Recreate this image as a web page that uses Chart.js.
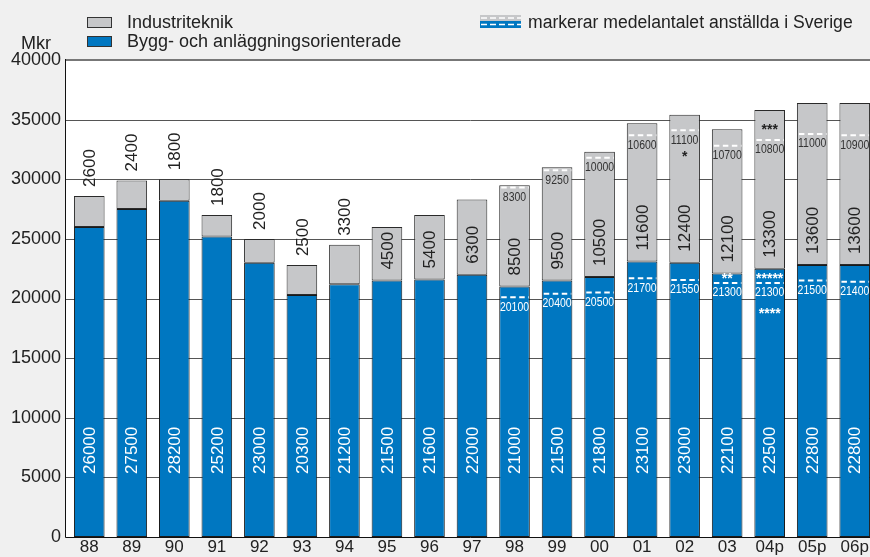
<!DOCTYPE html>
<html>
<head>
<meta charset="utf-8">
<script src="https://cdn.jsdelivr.net/npm/chart.js@4.4.0/dist/chart.umd.min.js"></script>
<style>
html,body{margin:0;padding:0;overflow:hidden}
body{background:#f0f0f0;width:870px;height:557px;position:relative;font-family:"Liberation Sans",Arial,sans-serif;color:#222}
#wrap{position:absolute;left:0;top:0;width:876px;height:557px}
.lg{position:absolute;font-size:18px;line-height:18px;white-space:nowrap}
.box{position:absolute;width:23px;height:9px;border:1px solid #333}
</style>
</head>
<body>
<div id="wrap"><canvas id="c" width="876" height="557"></canvas></div>
<div class="box" style="left:87px;top:17px;background:#c6c7c9"></div>
<div class="box" style="left:87px;top:36px;background:#0077c1"></div>
<div class="lg" style="left:127px;top:12.5px">Industriteknik</div>
<div class="lg" style="left:127px;top:32px">Bygg- och anläggningsorienterade</div>
<div class="lg" style="left:21px;top:34px">Mkr</div>
<div class="lg" style="left:528px;top:13px;font-size:17.6px">markerar medelantalet anställda i Sverige</div>
<script>
// år
var years = ["88","89","90","91","92","93","94","95","96","97","98","99","00","01","02","03","04p","05p","06p"];
// Mkr
var bygg = [26000,27500,28200,25200,23000,20300,21200,21500,21600,22000,21000,21500,21800,23100,23000,22100,22500,22800,22800];
var industri = [2600,2400,1800,1800,2000,2500,3300,4500,5400,6300,8500,9500,10500,11600,12400,12100,13300,13600,13600];
// medelantal anställda
var anstBygg = [null,null,null,null,null,null,null,null,null,null,20100,20400,20500,21700,21550,21300,21300,21500,21400];
var anstInd = [null,null,null,null,null,null,null,null,null,null,8300,9250,10000,10600,11100,10700,10800,11000,10900];
// fotnoter (stjärnor)
var starAboveInd = {16:"***"};
var starBelowInd = {14:"*"};
var starAboveBygg = {15:"**",16:"*****"};
var starBelowBygg = {16:"****"};

var blue = "#0077c1", grey = "#c6c7c9";

function vtext(ctx, t, x, y0, col){
  ctx.save();
  ctx.translate(x, y0);
  ctx.rotate(-Math.PI/2);
  ctx.font = "17px 'Liberation Sans', Arial, sans-serif";
  ctx.fillStyle = col;
  ctx.textAlign = "left";
  ctx.textBaseline = "middle";
  ctx.fillText(t, 0, 1);
  ctx.restore();
}
function smalltext(ctx, t, x, yc, col){
  ctx.save();
  ctx.translate(x, yc);
  ctx.scale(0.84, 1);
  ctx.font = "12.5px 'Liberation Sans', Arial, sans-serif";
  ctx.fillStyle = col;
  ctx.textAlign = "center";
  ctx.textBaseline = "middle";
  ctx.fillText(t, 0, 0);
  ctx.restore();
}
function stars(ctx, t, x, yc, col){
  ctx.save();
  ctx.font = "bold 14px 'Liberation Sans', Arial, sans-serif";
  ctx.fillStyle = col;
  ctx.textAlign = "center";
  ctx.textBaseline = "alphabetic";
  ctx.fillText(t, x, yc + 8);
  ctx.restore();
}
function dash(ctx, x, w, yy){
  ctx.save();
  ctx.strokeStyle = "#fff";
  ctx.lineWidth = 2;
  ctx.setLineDash([5.5,3.5]);
  ctx.beginPath();
  ctx.moveTo(x - w/2 + 2, yy);
  ctx.lineTo(x + w/2 - 1, yy);
  ctx.stroke();
  ctx.restore();
}

var frame = {
  id: "frame",
  beforeDatasetsDraw: function(chart){
    var ctx = chart.ctx, a = chart.chartArea, y = chart.scales.y;
    ctx.save();
    ctx.fillStyle = "#fff";
    ctx.fillRect(65, a.top, a.right - 65, a.bottom - a.top);
    ctx.strokeStyle = "#555";
    ctx.lineWidth = 1;
    for (var v = 5000; v < 40000; v += 5000){
      var py = Math.round(y.getPixelForValue(v)) + 0.5;
      ctx.beginPath(); ctx.moveTo(65, py); ctx.lineTo(a.right, py); ctx.stroke();
    }
    ctx.restore();
  },
  afterDatasetsDraw: function(chart){
    var ctx = chart.ctx, a = chart.chartArea, y = chart.scales.y;
    var m0 = chart.getDatasetMeta(0);
    ctx.save();
    // ramar
    ctx.strokeStyle = "#777"; ctx.lineWidth = 2;
    ctx.beginPath(); ctx.moveTo(65, a.top); ctx.lineTo(a.right, a.top); ctx.stroke();
    ctx.strokeStyle = "#111"; ctx.lineWidth = 1;
    ctx.beginPath(); ctx.moveTo(65.5, a.top - 1); ctx.lineTo(65.5, a.bottom + 0.5); ctx.lineTo(a.right, a.bottom + 0.5); ctx.stroke();
    ctx.restore();

    for (var i = 0; i < years.length; i++){
      var bx = m0.data[i].x, w = m0.data[i].width;
      var byggTop = y.getPixelForValue(bygg[i]);
      var tot = y.getPixelForValue(bygg[i] + industri[i]);
      vtext(ctx, String(bygg[i]), bx, 474, "#fff");
      if (i < 7) vtext(ctx, String(industri[i]), bx, tot - 9, "#222");
      else vtext(ctx, String(industri[i]), bx, byggTop - 11, "#222");
      if (anstBygg[i] != null){
        var yb = y.getPixelForValue(anstBygg[i]);
        var yi = y.getPixelForValue(bygg[i] + anstInd[i]);
        dash(ctx, bx, w, yb);
        dash(ctx, bx, w, yi);
        smalltext(ctx, String(anstBygg[i]), bx, yb + 10, "#fff");
        smalltext(ctx, String(anstInd[i]), bx, yi + 10, "#333");
        if (starAboveInd[i]) stars(ctx, starAboveInd[i], bx, yi - 14, "#222");
        if (starBelowInd[i]) stars(ctx, starBelowInd[i], bx, yi + 23, "#222");
        if (starAboveBygg[i]) stars(ctx, starAboveBygg[i], bx, yb - 8, "#fff");
        if (starBelowBygg[i]) stars(ctx, starBelowBygg[i], bx, yb + 27, "#fff");
      }
    }
  },
  afterDraw: function(chart){
    // legendsymbol för streckade linjer
    var ctx = chart.ctx;
    ctx.save();
    ctx.fillStyle = grey; ctx.fillRect(480, 15, 41, 6);
    ctx.fillStyle = blue; ctx.fillRect(480, 21, 41, 7);
    ctx.strokeStyle = "#fff"; ctx.lineWidth = 1.5; ctx.setLineDash([6,3]);
    ctx.beginPath(); ctx.moveTo(481, 18); ctx.lineTo(521, 18); ctx.stroke();
    ctx.beginPath(); ctx.moveTo(481, 24.5); ctx.lineTo(521, 24.5); ctx.stroke();
    ctx.restore();
  }
};

var chart = new Chart(document.getElementById("c"), {
  type: "bar",
  data: {
    labels: years,
    datasets: [
      {label: "Bygg- och anläggningsorienterade", data: bygg, backgroundColor: blue, borderColor: "#1a1a1a", borderWidth: 1, borderSkipped: false},
      {label: "Industriteknik", data: industri, backgroundColor: grey, borderColor: "#2a2a2a", borderWidth: 1, borderSkipped: false}
    ]
  },
  options: {
    responsive: false,
    animation: false,
    devicePixelRatio: 1,
    layout: {padding: {top: 60, left: 0, right: 0, bottom: 0}},
    datasets: {bar: {barPercentage: 0.72, categoryPercentage: 1}},
    plugins: {legend: {display: false}, tooltip: {enabled: false}},
    scales: {
      x: {
        stacked: true,
        grid: {display: false},
        border: {display: false},
        ticks: {color: "#222", padding: -8, maxRotation: 0, autoSkip: false, font: {family: "'Liberation Sans', Arial, sans-serif", size: 17}},
        afterFit: function(s){ s.height = 20; }
      },
      y: {
        stacked: true,
        min: 0, max: 40000,
        grid: {display: false, drawTicks: false},
        border: {display: false},
        ticks: {stepSize: 5000, color: "#222", padding: 7, font: {family: "'Liberation Sans', Arial, sans-serif", size: 18},
          callback: function(v){ return String(v); }},
        afterFit: function(s){ s.width = 68; }
      }
    }
  },
  plugins: [frame]
});
</script>
</body>
</html>
